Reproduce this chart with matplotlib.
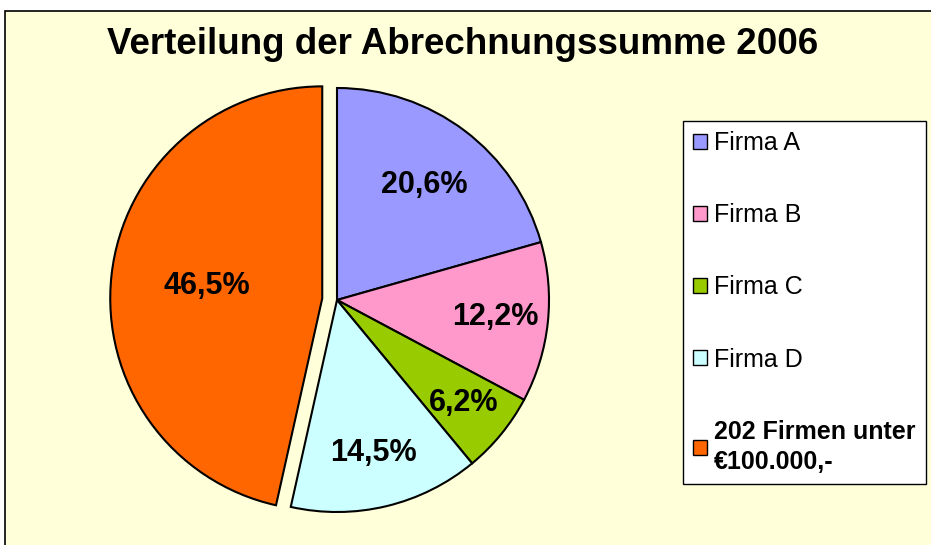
import numpy as np
import matplotlib
matplotlib.use("Agg")
import matplotlib.pyplot as plt
from matplotlib.patches import Rectangle, Patch

plt.rcParams['font.family'] = ['Liberation Sans', 'DejaVu Sans']

# Daten
labels = ["Firma A", "Firma B", "Firma C", "Firma D", "202 Firmen unter\n€100.000,-"]
anteile = [20.6, 12.2, 6.2, 14.5, 46.5]
farben = ["#9999FF", "#FF99CC", "#99CC00", "#CCFFFF", "#FF6600"]
explode = [0, 0, 0, 0, 0.07]
label_dist = [0.68, 0.75, 0.77, 0.74, 0.55]

fig = plt.figure(figsize=(9.31, 5.45), dpi=100)
fig.patch.set_facecolor("white")

# Hintergrund mit Rahmen
fig.add_artist(Rectangle((5 / 931, -0.1), 1.0, 1 - 11 / 545 + 0.1,
                         transform=fig.transFigure, facecolor="#FFFFDA",
                         edgecolor="black", lw=1.2, zorder=-10))

fig.text(463 / 931, 1 - 45 / 545, "Verteilung der Abrechnungssumme 2006",
         ha="center", va="center", fontsize=26.5, fontweight="bold")

ax = fig.add_axes([(337 - 230) / 931, (245 - 230) / 545, 460 / 931, 460 / 545])

wedges, texts, autotexts = ax.pie(
    anteile, colors=farben, explode=explode, startangle=90, counterclock=False,
    autopct=lambda p: f"{p:.1f}%".replace(".", ","), pctdistance=0.7,
    wedgeprops=dict(edgecolor="black", linewidth=1.5),
    textprops=dict(fontsize=22, fontweight="bold"))

ax.set_xlim(-230 / 212, 230 / 212)
ax.set_ylim(-230 / 212, 230 / 212)
ax.set_aspect("equal")
ax.axis("off")

for w, t, d in zip(wedges, autotexts, label_dist):
    ang = np.deg2rad((w.theta1 + w.theta2) / 2)
    cx, cy = w.center
    t.set_position((cx + d * np.cos(ang), cy + d * np.sin(ang)))

handles = [Patch(facecolor=c, edgecolor="black", lw=1) for c in farben]
leg = fig.legend(handles, labels, loc="upper left",
                 bbox_to_anchor=(683 / 931, 1 - 121 / 545), borderaxespad=0,
                 fontsize=18, frameon=True, fancybox=False, framealpha=1,
                 edgecolor="black", facecolor="white", labelspacing=1.93,
                 handlelength=0.55, handleheight=0.55, handletextpad=0.3,
                 borderpad=0.4)
leg.get_frame().set_linewidth(1)
leg.get_texts()[-1].set_fontweight("bold")
leg.get_texts()[-1].set_linespacing(1.3)

fig.savefig("out.png", dpi=100)
